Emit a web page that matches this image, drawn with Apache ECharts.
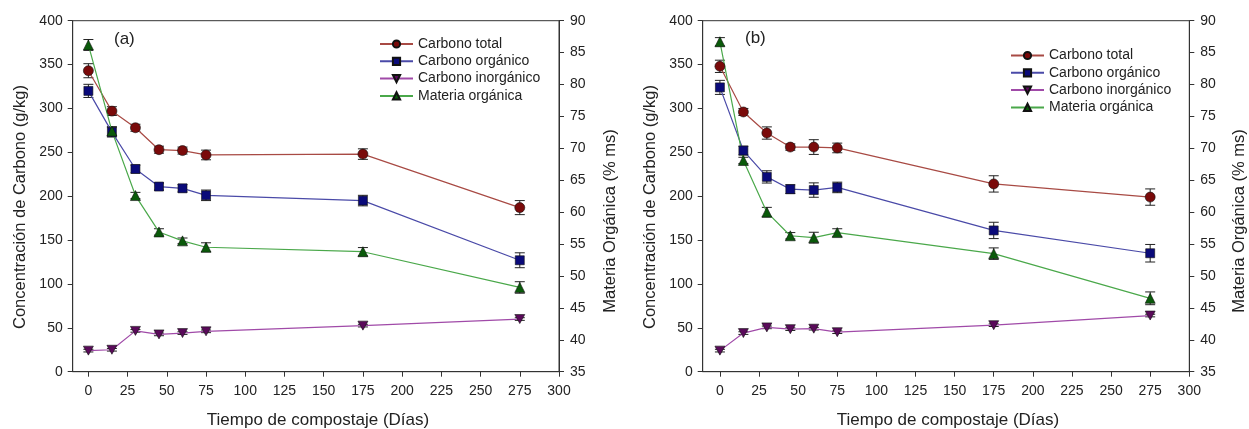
<!DOCTYPE html>
<html>
<head>
<meta charset="utf-8">
<script src="https://cdn.jsdelivr.net/npm/echarts@6/dist/echarts.min.js"></script>
<style>
  html, body { margin: 0; padding: 0; background: #fff; }
  #chart { width: 1249px; height: 429px; }
</style>
</head>
<body>
<div id="chart"></div>
<script>
// Sampling days
const days = [0, 15, 30, 45, 60, 75, 175, 275];
const xTicks = [0, 25, 50, 75, 100, 125, 150, 175, 200, 225, 250, 275, 300];

// Panel (a)
const totalA      = [343, 297, 278, 253, 252, 247, 248, 187];
const totalAErr   = [8, 5, 4, 4, 4, 5.5, 6, 8];
const organicA    = [320, 273, 231, 211, 209, 201, 195, 127];
const organicAErr = [7.5, 5.5, 4.5, 4, 4.2, 6, 6, 8.5];
const inorgA      = [24, 25, 46.5, 42.5, 44, 46, 52.5, 60];
const inorgAErr   = [1.5, 1.5, 1.5, 1.5, 1.5, 1.5, 1.5, 1.5];
const omA         = [86.2, 72.7, 62.6, 56.9, 55.5, 54.5, 53.8, 48.2];
const omAErr      = [0.85, 0.7, 0.5, 0.5, 0.45, 0.7, 0.65, 0.9];

// Panel (b)
const totalB      = [348, 296, 272, 256, 256, 255, 214, 199];
const totalBErr   = [7, 4, 7, 3.6, 8.4, 5.5, 9.3, 9.3];
const organicB    = [324, 252, 222, 208, 207, 210, 161, 135];
const organicBErr = [8, 5, 7, 5, 8.2, 6, 9.3, 10];
const inorgB      = [24, 44, 50.5, 48.5, 49, 45, 53, 64];
const inorgBErr   = [1.5, 1.5, 1.5, 1.5, 1.5, 1.5, 1.5, 1.5];
const omB         = [86.7, 68.1, 60.0, 56.3, 56.0, 56.8, 53.5, 46.5];
const omBErr      = [0.65, 0.5, 0.75, 0.5, 0.85, 0.6, 0.9, 1.0];

const names = ['Carbono total', 'Carbono orgánico', 'Carbono inorgánico', 'Materia orgánica'];
const lineColors = ['#a84a44', '#4a4aa8', '#a04aa8', '#4aa84a'];
const fillColors = ['#7a0a0a', '#0a0a7a', '#5a0a5a', '#0a5a0a'];
const symbols = ['circle', 'rect', 'path://M0,0 L10,0 L5,9 Z', 'triangle'];
const symbolSizes = [10, 9, [10, 9], 10];

const FONT = 'Liberation Sans, Arial, sans-serif';
const TEXT = '#222';

function pairs(vals) { return days.map((d, i) => [d, vals[i]]); }
function bars(vals, err) { return days.map((d, i) => [d, vals[i] - err[i], vals[i] + err[i]]); }

function renderErr(params, api) {
  const x = api.value(0);
  const lo = api.coord([x, api.value(1)]);
  const hi = api.coord([x, api.value(2)]);
  const w = 5;
  const style = { stroke: '#222', lineWidth: 1 };
  return {
    type: 'group',
    children: [
      { type: 'line', shape: { x1: lo[0], y1: lo[1], x2: hi[0], y2: hi[1] }, style },
      { type: 'line', shape: { x1: lo[0] - w, y1: lo[1], x2: lo[0] + w, y2: lo[1] }, style },
      { type: 'line', shape: { x1: hi[0] - w, y1: hi[1], x2: hi[0] + w, y2: hi[1] }, style }
    ]
  };
}

function xAxisFor(grid, min) {
  return {
    type: 'value', gridIndex: grid, min: min, max: 300,
    axisLine: { show: true, onZero: false, lineStyle: { color: '#333', width: 1 } },
    axisTick: { show: true, length: 5, customValues: xTicks, lineStyle: { color: '#333' } },
    axisLabel: { customValues: xTicks, margin: 12, color: TEXT, fontSize: 14, fontFamily: FONT },
    splitLine: { show: false }
  };
}
function yAxisFor(grid, pos, min, max, interval) {
  return {
    type: 'value', gridIndex: grid, position: pos, min: min, max: max, interval: interval,
    axisLine: { show: true, onZero: false, lineStyle: { color: '#333', width: 1 } },
    axisTick: { show: true, length: 5, lineStyle: { color: '#333' } },
    axisLabel: { margin: pos === 'left' ? 10 : 11, color: TEXT, fontSize: 14, fontFamily: FONT },
    splitLine: { show: false }
  };
}

function panelSeries(xIdx, yLeft, yRight, sets) {
  const out = [];
  sets.forEach((s, k) => {
    const yIdx = k === 3 ? yRight : yLeft;
    out.push({
      type: 'custom', name: names[k] + ' err', xAxisIndex: xIdx, yAxisIndex: yIdx,
      renderItem: renderErr, data: bars(s[0], s[1]), encode: { x: 0, y: [1, 2] },
      z: 2, silent: true
    });
    out.push({
      type: 'line', name: names[k], xAxisIndex: xIdx, yAxisIndex: yIdx,
      data: pairs(s[0]), symbol: symbols[k], symbolSize: symbolSizes[k],
      lineStyle: { color: lineColors[k], width: 1.2 },
      itemStyle: { color: fillColors[k], borderColor: '#111', borderWidth: 0.6 },
      z: 3
    });
  });
  return out;
}

function legendAt(left, top) {
  return {
    left: left, top: top, orient: 'vertical', data: names, padding: 0,
    itemWidth: 33, itemHeight: 9, itemGap: 3.3,
    textStyle: { color: TEXT, fontSize: 14, fontFamily: FONT }
  };
}

const chart = echarts.init(document.getElementById('chart'), null, { renderer: 'canvas' });

const option = {
  animation: false,
  grid: [
    { left: 72.7, top: 20.7, width: 486.3, height: 351, show: true, borderColor: '#333', borderWidth: 1 },
    { left: 702.7, top: 20.7, width: 486.6, height: 351, show: true, borderColor: '#333', borderWidth: 1 }
  ],
  legend: [legendAt(379, 37), legendAt(1010, 48.5)],
  xAxis: [xAxisFor(0, -10), xAxisFor(1, -11)],
  yAxis: [
    yAxisFor(0, 'left', 0, 400, 50),
    yAxisFor(0, 'right', 35, 90, 5),
    yAxisFor(1, 'left', 0, 400, 50),
    yAxisFor(1, 'right', 35, 90, 5)
  ],
  series: [].concat(
    panelSeries(0, 0, 1, [[totalA, totalAErr], [organicA, organicAErr], [inorgA, inorgAErr], [omA, omAErr]]),
    panelSeries(1, 2, 3, [[totalB, totalBErr], [organicB, organicBErr], [inorgB, inorgBErr], [omB, omBErr]])
  ),
  graphic: [
    { type: 'text', left: 114, top: 31, style: { text: '(a)', font: '17px ' + FONT, fill: TEXT } },
    { type: 'text', left: 745, top: 30, style: { text: '(b)', font: '17px ' + FONT, fill: TEXT } },
    { type: 'text', x: 20, y: 207, rotation: Math.PI / 2, style: { text: 'Concentración de Carbono (g/kg)', font: '16.5px ' + FONT, fill: TEXT, textAlign: 'center', textVerticalAlign: 'middle' } },
    { type: 'text', x: 650, y: 207, rotation: Math.PI / 2, style: { text: 'Concentración de Carbono (g/kg)', font: '16.5px ' + FONT, fill: TEXT, textAlign: 'center', textVerticalAlign: 'middle' } },
    { type: 'text', x: 610, y: 221, rotation: Math.PI / 2, style: { text: 'Materia Orgánica (% ms)', font: '16.5px ' + FONT, fill: TEXT, textAlign: 'center', textVerticalAlign: 'middle' } },
    { type: 'text', x: 1239, y: 221, rotation: Math.PI / 2, style: { text: 'Materia Orgánica (% ms)', font: '16.5px ' + FONT, fill: TEXT, textAlign: 'center', textVerticalAlign: 'middle' } },
    { type: 'text', x: 318, y: 420, style: { text: 'Tiempo de compostaje (Días)', font: '17px ' + FONT, fill: TEXT, textAlign: 'center', textVerticalAlign: 'middle' } },
    { type: 'text', x: 948, y: 420, style: { text: 'Tiempo de compostaje (Días)', font: '17px ' + FONT, fill: TEXT, textAlign: 'center', textVerticalAlign: 'middle' } }
  ]
};
chart.setOption(option);
</script>
</body>
</html>
